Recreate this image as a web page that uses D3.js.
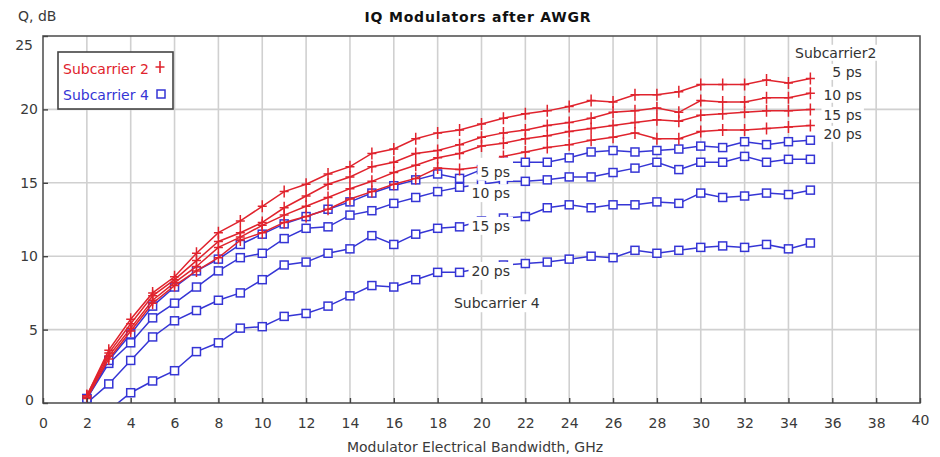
<!DOCTYPE html>
<html>
<head>
<meta charset="utf-8">
<script src="https://cdn.jsdelivr.net/npm/d3@7"></script>
<style>
  body { margin: 0; background: #fff; }
  text { font-family: "DejaVu Sans", sans-serif; }
</style>
</head>
<body>
<script>
// Width and height
var w = 940;
var h = 457;

// Modulator bandwidth, GHz
var bandwidth = [2, 3, 4, 5, 6, 7, 8, 9, 10, 11, 12, 13, 14, 15, 16, 17, 18,
                 19, 20, 21, 22, 23, 24, 25, 26, 27, 28, 29, 30, 31, 32, 33, 34, 35];

// Q, dB - subcarrier 2 (red, +)
var sc2_5ps  = [0.5, 3.6, 5.7, 7.5, 8.6, 10.2, 11.6, 12.4, 13.4, 14.4, 14.9, 15.6, 16.1, 17.0, 17.3, 18.0, 18.4,
                18.6, 19.0, 19.4, 19.7, 19.9, 20.2, 20.6, 20.5, 21.0, 21.0, 21.2, 21.7, 21.7, 21.7, 22.0, 21.8, 22.1];
var sc2_10ps = [0.5, 3.4, 5.4, 7.3, 8.4, 9.7, 11.0, 11.6, 12.3, 13.3, 14.1, 14.9, 15.4, 16.1, 16.4, 17.0, 17.2,
                17.6, 18.1, 18.4, 18.6, 18.9, 19.1, 19.4, 19.8, 19.9, 20.1, 19.8, 20.6, 20.5, 20.5, 20.8, 20.8, 21.1];
var sc2_15ps = [0.4, 3.2, 5.1, 7.0, 8.2, 9.3, 10.6, 11.3, 12.1, 12.8, 13.4, 14.0, 14.6, 15.1, 15.7, 16.2, 16.7,
                17.0, 17.5, 17.7, 18.0, 18.2, 18.5, 18.7, 18.9, 19.1, 19.3, 19.2, 19.6, 19.7, 19.8, 19.9, 19.9, 20.0];
var sc2_20ps = [0.3, 3.0, 4.9, 6.8, 8.0, 9.0, 9.9, 11.1, 11.6, 12.3, 12.7, 13.2, 13.9, 14.4, 14.9, 15.3, 16.0,
                15.9, 16.1, 16.8, 17.1, 17.4, 17.6, 17.9, 18.1, 18.4, 18.0, 18.0, 18.5, 18.6, 18.6, 18.7, 18.8, 18.9];

// Q, dB - subcarrier 4 (blue, squares)
var sc4_5ps  = [0.3, 2.9, 4.7, 6.6, 7.9, 9.0, 9.8, 10.8, 11.5, 12.2, 12.7, 13.2, 13.7, 14.3, 14.8, 15.2, 15.6,
                15.3, 15.9, 16.4, 16.4, 16.4, 16.7, 17.1, 17.2, 17.1, 17.2, 17.3, 17.5, 17.4, 17.8, 17.6, 17.8, 17.9];
var sc4_10ps = [0.3, 2.7, 4.1, 5.8, 6.8, 7.9, 9.0, 9.9, 10.2, 11.2, 11.9, 12.0, 12.8, 13.1, 13.6, 14.0, 14.4,
                14.7, 14.9, 15.1, 15.1, 15.2, 15.4, 15.4, 15.7, 16.0, 16.4, 15.9, 16.4, 16.4, 16.8, 16.4, 16.6, 16.6];
var sc4_15ps = [0.0, 1.3, 2.9, 4.5, 5.6, 6.3, 7.0, 7.5, 8.4, 9.4, 9.6, 10.2, 10.5, 11.4, 10.8, 11.5, 11.9,
                12.0, 12.4, 12.6, 12.7, 13.3, 13.5, 13.3, 13.5, 13.5, 13.7, 13.6, 14.3, 14.0, 14.1, 14.3, 14.2, 14.5];
var sc4_20ps = [null, -0.5, 0.7, 1.5, 2.2, 3.5, 4.1, 5.1, 5.2, 5.9, 6.1, 6.6, 7.3, 8.0, 7.9, 8.4, 8.9,
                8.9, 9.2, 9.4, 9.5, 9.6, 9.8, 10.0, 9.9, 10.4, 10.2, 10.4, 10.6, 10.7, 10.6, 10.8, 10.5, 10.9];

var delayLabels = ["5 ps", "10 ps", "15 ps", "20 ps"];
var xTicks = [0, 2, 4, 6, 8, 10, 12, 14, 16, 18, 20, 22, 24, 26, 28, 30, 32, 34, 36, 38, 40];
var yTicks = [0, 5, 10, 15, 20, 25];

var red = "#e0232d";
var blue = "#3535d5";

var subcarrier4 = [sc4_20ps, sc4_15ps, sc4_10ps, sc4_5ps];
var subcarrier2 = [sc2_20ps, sc2_15ps, sc2_10ps, sc2_5ps];

// Create scale functions
var xScale = d3.scaleLinear().domain([0, 40]).range([43, 920]);
var yScale = d3.scaleLinear().domain([0, 25]).range([403, 36]);

// Create SVG element
var svg = d3.select("body")
            .append("svg")
            .attr("width", w)
            .attr("height", h);

svg.append("clipPath")
  .attr("id", "plot-clip")
  .append("rect")
  .attr("x", 43)
  .attr("y", 36)
  .attr("width", 877)
  .attr("height", 367);

// Grid
svg.append("g")
  .selectAll("line")
  .data(xTicks.slice(1, -1))
  .enter()
  .append("line")
  .attr("x1", function(d) { return xScale(d); })
  .attr("x2", function(d) { return xScale(d); })
  .attr("y1", 36)
  .attr("y2", 403)
  .attr("stroke", "#d0d0d0")
  .attr("stroke-width", 1.6);

svg.append("g")
  .selectAll("line")
  .data(yTicks.slice(1, -1))
  .enter()
  .append("line")
  .attr("x1", 43)
  .attr("x2", 920)
  .attr("y1", function(d) { return yScale(d); })
  .attr("y2", function(d) { return yScale(d); })
  .attr("stroke", "#d0d0d0")
  .attr("stroke-width", 1.6);

// Series
var line = d3.line()
  .defined(function(d) { return d[1] !== null; })
  .x(function(d) { return xScale(d[0]); })
  .y(function(d) { return yScale(d[1]); });

function points(values) {
  return values.map(function(v, i) { return [bandwidth[i], v]; });
}

var plot = svg.append("g").attr("clip-path", "url(#plot-clip)");

subcarrier4.forEach(function(values) {
  var pts = points(values);
  plot.append("path")
    .attr("d", line(pts))
    .attr("fill", "none")
    .attr("stroke", blue)
    .attr("stroke-width", 1.5);
  plot.selectAll(null)
    .data(pts.filter(function(d) { return d[1] !== null; }))
    .enter()
    .append("rect")
    .attr("x", function(d) { return xScale(d[0]) - 4; })
    .attr("y", function(d) { return yScale(d[1]) - 4; })
    .attr("width", 8)
    .attr("height", 8)
    .attr("fill", "#fff")
    .attr("stroke", blue)
    .attr("stroke-width", 1.5);
});

subcarrier2.forEach(function(values) {
  var pts = points(values);
  plot.append("path")
    .attr("d", line(pts))
    .attr("fill", "none")
    .attr("stroke", red)
    .attr("stroke-width", 1.5);
  plot.selectAll(null)
    .data(pts)
    .enter()
    .append("path")
    .attr("transform", function(d) {
      return "translate(" + xScale(d[0]) + "," + yScale(d[1]) + ")";
    })
    .attr("d", "M-4.5,0H4.5M0,-6V6")
    .attr("stroke", red)
    .attr("stroke-width", 1.5);
});

// Labels with white boxes
function boxedLabel(x, y, txt, anchor, padX, padTop, padBottom) {
  var g = svg.append("g");
  var rect = g.append("rect").attr("fill", "#fff");
  var t = g.append("text")
    .attr("x", x)
    .attr("y", y)
    .attr("dy", "0.36em")
    .attr("text-anchor", anchor)
    .attr("font-size", "14px")
    .attr("fill", "#333")
    .text(txt);
  var b = t.node().getBBox();
  rect.attr("x", b.x - padX)
    .attr("y", b.y - padTop)
    .attr("width", b.width + 2 * padX)
    .attr("height", b.height + padTop + padBottom);
}

var midY = [15.75, 14.3, 12.07, 9.0];
delayLabels.forEach(function(d, i) {
  boxedLabel(xScale(21.3), yScale(midY[i]), d, "end", 3, i === 0 ? 6 : 1, 1);
});
boxedLabel(xScale(20.7), yScale(6.8), "Subcarrier 4", "middle", 2, 1, 1);

var rightY = [22.56, 21.0, 19.63, 18.34];
boxedLabel(xScale(34.3), yScale(23.86), "Subcarrier2", "start", 1, 0, 0);
delayLabels.forEach(function(d, i) {
  boxedLabel(xScale(37.35), yScale(rightY[i]), d, "end", 2, 0, 0);
});

// Frame
svg.append("rect")
  .attr("x", 43)
  .attr("y", 36)
  .attr("width", 877)
  .attr("height", 367)
  .attr("fill", "none")
  .attr("stroke", "#555")
  .attr("stroke-width", 1.6);

// Define axes
var xAxis = d3.axisBottom(xScale)
              .tickValues(xTicks)
              .tickSize(-5)
              .tickPadding(15);

var yAxis = d3.axisLeft(yScale)
              .tickValues(yTicks)
              .tickSize(-5)
              .tickPadding(5);

var gx = svg.append("g")
  .attr("transform", "translate(0,403)")
  .call(xAxis);

var gy = svg.append("g")
  .attr("transform", "translate(43,0)")
  .call(yAxis);

[gx, gy].forEach(function(g) {
  g.select(".domain").remove();
  g.selectAll(".tick line").attr("stroke", "#444").attr("stroke-width", 1.4);
  g.selectAll(".tick text")
    .attr("font-family", "DejaVu Sans, sans-serif")
    .attr("font-size", "14px")
    .attr("fill", "#3a3a3a");
});

gx.selectAll(".tick text")
  .filter(function(d) { return d === 40; })
  .attr("y", 12);

gy.selectAll(".tick text")
  .filter(function(d) { return d === 25; })
  .attr("x", -10)
  .attr("dy", "0.95em");
gy.selectAll(".tick text")
  .filter(function(d) { return d === 0; })
  .attr("x", -9)
  .attr("dy", "0.1em");

// Titles
svg.append("text")
  .attr("x", 478)
  .attr("y", 22)
  .attr("text-anchor", "middle")
  .attr("font-size", "14px")
  .attr("font-weight", "bold")
  .attr("letter-spacing", "0.8px")
  .attr("fill", "#111")
  .text("IQ Modulators after AWGR");

svg.append("text")
  .attr("x", 18)
  .attr("y", 21)
  .attr("font-size", "14px")
  .attr("fill", "#3a3a3a")
  .text("Q, dB");

svg.append("text")
  .attr("x", 475)
  .attr("y", 452)
  .attr("text-anchor", "middle")
  .attr("font-size", "14px")
  .attr("fill", "#3a3a3a")
  .text("Modulator Electrical Bandwidth, GHz");

// Legend
var legend = svg.append("g");
legend.append("rect")
  .attr("x", 58)
  .attr("y", 52)
  .attr("width", 115)
  .attr("height", 57)
  .attr("fill", "#fff")
  .attr("stroke", "#444")
  .attr("stroke-width", 1.6);

legend.append("text")
  .attr("x", 63)
  .attr("y", 69)
  .attr("dy", "0.36em")
  .attr("font-size", "14px")
  .attr("fill", red)
  .text("Subcarrier 2");

legend.append("path")
  .attr("transform", "translate(160,67)")
  .attr("d", "M-4.5,0H4.5M0,-6V6")
  .attr("stroke", red)
  .attr("stroke-width", 1.6);

legend.append("text")
  .attr("x", 63)
  .attr("y", 95)
  .attr("dy", "0.36em")
  .attr("font-size", "14px")
  .attr("fill", blue)
  .text("Subcarrier 4");

legend.append("rect")
  .attr("x", 157)
  .attr("y", 90)
  .attr("width", 8)
  .attr("height", 8)
  .attr("fill", "#fff")
  .attr("stroke", blue)
  .attr("stroke-width", 1.5);
</script>
</body>
</html>
